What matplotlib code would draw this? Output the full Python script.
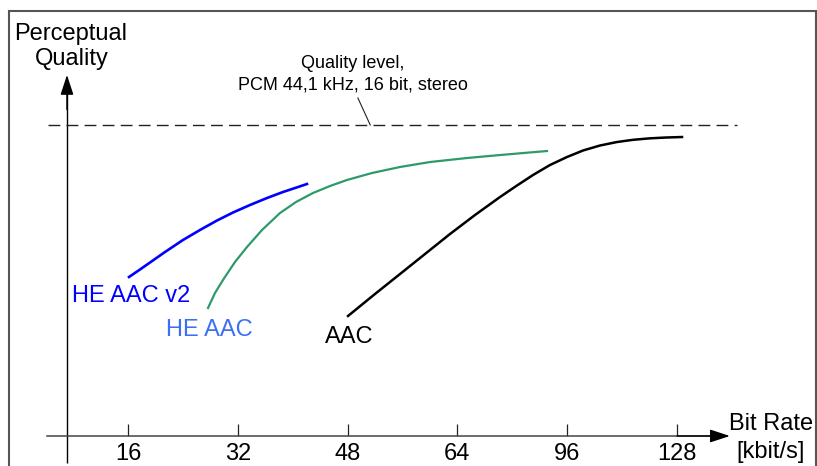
import numpy as np
import matplotlib
matplotlib.use("Agg")
import matplotlib.pyplot as plt
from matplotlib.patches import Rectangle

plt.rcParams['font.family'] = ['Liberation Sans', 'DejaVu Sans']

# ---- data (bit rate in kbit/s, perceptual quality in arbitrary units) ----
tick_rates = [16, 32, 48, 64, 96, 128]
quality_ref = 10.0

he_aac_v2_rate = [16.15, 17.75, 19.21, 21.39, 24.01, 26.49, 28.97, 31.30, 33.78,
                  36.26, 38.59, 40.34, 42.08]
he_aac_v2_q = [5.113, 5.354, 5.579, 5.916, 6.302, 6.624, 6.929, 7.186, 7.428,
               7.653, 7.846, 7.974, 8.103]

he_aac_rate = [27.66, 28.68, 29.84, 31.59, 33.34, 35.53, 38.15, 40.48, 42.96,
               45.44, 47.91, 51.56, 55.64, 60.01, 66.80, 76.42, 90.11]
he_aac_q = [4.116, 4.598, 5.016, 5.595, 6.077, 6.624, 7.170, 7.524, 7.814,
            8.039, 8.232, 8.457, 8.650, 8.810, 8.939, 9.035, 9.164]

aac_rate = [48.06, 51.99, 55.64, 59.28, 62.92, 69.13, 76.42, 81.37, 86.03,
            90.99, 95.94, 100.60, 105.56, 110.51, 115.18, 120.13, 124.79, 129.46]
aac_q = [3.859, 4.566, 5.209, 5.852, 6.495, 7.106, 7.685, 8.055, 8.392,
         8.714, 8.971, 9.180, 9.341, 9.453, 9.524, 9.572, 9.598, 9.614]

# the bit rate axis is not linear: ticks are evenly spaced
scale_rates = [-32, 0, 16, 32, 48, 64, 96, 128, 192]
scale_pos = [-2, 0, 1, 2, 3, 4, 5, 6, 8]


def fwd(x):
    return np.interp(x, scale_rates, scale_pos)


def inv(u):
    return np.interp(u, scale_pos, scale_rates)


fig = plt.figure(figsize=(8.17, 4.66), dpi=100)
ax = fig.add_axes([0, 0, 1, 1])
ax.set_xscale('function', functions=(fwd, inv))
ax.set_xlim(-2.65, 168.8)
ax.set_ylim(-0.965, 14.02)
ax.patch.set_alpha(0)

# outer frame
fig.patches.append(Rectangle((9 / 817, -0.05), 807 / 817, 1.026, transform=fig.transFigure,
                             fill=False, ec='#555555', lw=1.5))

# axes
origin_x = 7.11
for s in ['top', 'right', 'left']:
    ax.spines[s].set_visible(False)
ax.spines['bottom'].set_position(('data', 0))
ax.spines['bottom'].set_bounds(4.2, 139)
ax.spines['bottom'].set_color('#444444')
ax.spines['bottom'].set_linewidth(1.1)
ax.set_yticks([])
ax.set_xticks(tick_rates)
ax.set_xticklabels([str(t) for t in tick_rates])
ax.tick_params(axis='x', direction='in', length=8.6, width=0.9, color='#222222',
               labelsize=17, pad=5)

ax.plot([origin_x, origin_x], [-0.87, 11.2], color='black', lw=1.0, solid_capstyle='butt')
arrow = dict(arrowstyle='-|>,head_length=1.22,head_width=0.4', mutation_scale=10,
             color='black', lw=1.0, shrinkA=0, shrinkB=0)
ax.annotate('', xy=(origin_x, 11.61), xytext=(origin_x, 10.5), arrowprops=arrow)
ax.annotate('', xy=(143.4, 0), xytext=(128, 0), arrowprops=arrow)

# reference quality level
ax.plot([4.3, 145.5], [quality_ref, quality_ref], color='#222222', lw=1.0, dashes=(8.5, 4.5))
ax.plot([49.5, 51.3], [10.87, quality_ref], color='#222222', lw=0.8)
ax.text(48.8, 11.83, 'Quality level,', ha='center', va='baseline', fontsize=13)
ax.text(48.8, 11.13, 'PCM 44,1 kHz, 16 bit, stereo', ha='center', va='baseline', fontsize=13)

# codec curves
ax.plot(he_aac_v2_rate, he_aac_v2_q, color='#0000ff', lw=1.9, solid_joinstyle='round')
ax.plot(he_aac_rate, he_aac_q, color='#2e9a6a', lw=1.6, solid_joinstyle='round')
ax.plot(aac_rate, aac_q, color='black', lw=1.8, solid_joinstyle='round')

ax.text(7.80, 4.31, 'HE AAC v2', color='#0000ff', fontsize=17, va='baseline')
ax.text(21.54, 3.23, 'HE AAC', color='#3d6ff5', fontsize=17, va='baseline')
ax.text(44.7, 2.99, 'AAC', color='black', fontsize=17, va='baseline')

# axis titles
ax.text(7.62, 12.73, 'Perceptual', ha='center', va='baseline', fontsize=17)
ax.text(7.85, 11.93, 'Quality', ha='center', va='baseline', fontsize=17)
ax.text(155.4, 0.19, 'Bit Rate', ha='center', va='baseline', fontsize=17)
ax.text(155.4, -0.71, '[kbit/s]', ha='center', va='baseline', fontsize=17)

fig.savefig('out.png', dpi=100)
